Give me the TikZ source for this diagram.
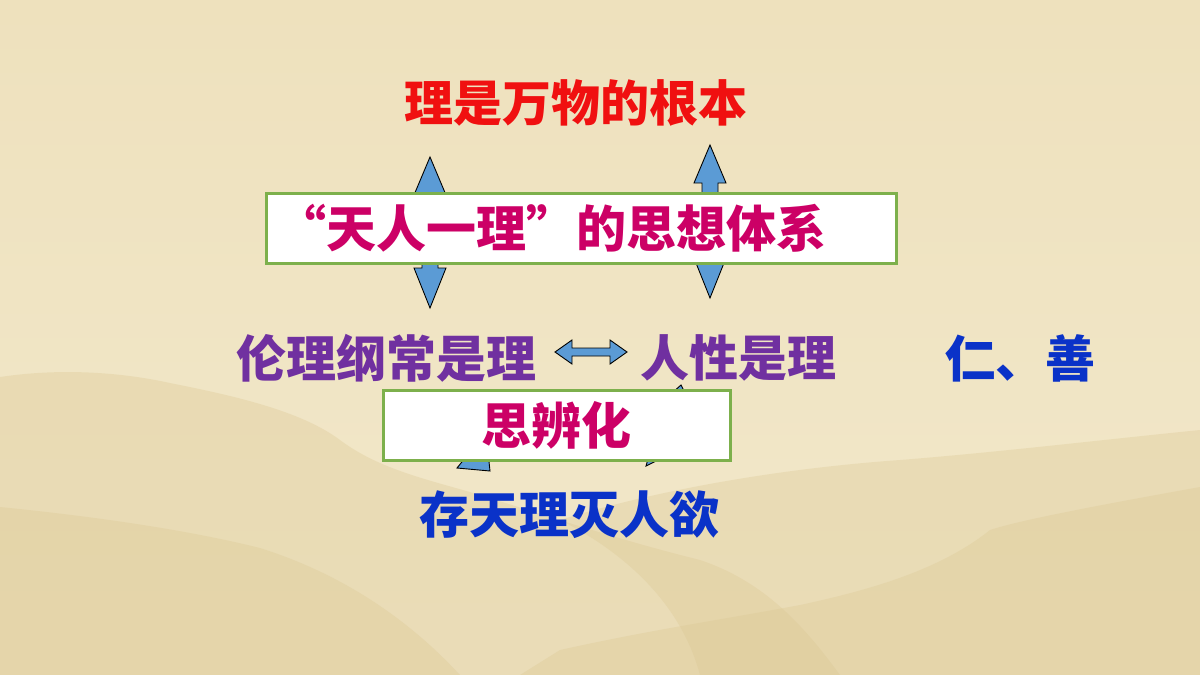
\documentclass[tikz,border=0pt]{standalone}
\usepackage{fontspec}
\newfontfamily\cjk{Noto Sans CJK SC}
\usetikzlibrary{calc}
\definecolor{bgtop}{HTML}{EEE1BD}
\definecolor{bgbot}{HTML}{F2E8CB}
\definecolor{hill}{HTML}{DCC894}
\definecolor{tred}{HTML}{F01010}
\definecolor{tmag}{HTML}{CC0066}
\definecolor{tpur}{HTML}{7030A0}
\definecolor{tblu}{HTML}{0A32C8}
\definecolor{afill}{HTML}{5B9BD5}
\definecolor{bgreen}{HTML}{7DB04C}
\tikzset{
  txt/.style={inner sep=0pt, font=\cjk\bfseries\fontsize{#1}{#1}\selectfont},
  blockarrow/.style={fill=afill, draw=black, line width=0.9pt, line join=miter},
  whitebox/.style={draw=bgreen, fill=white, line width=3pt, minimum height=70pt, inner sep=0pt},
  hillfill/.style={fill=hill, fill opacity=0.35}
}
\begin{document}
\begin{tikzpicture}[x=1pt,y=-1pt]
\useasboundingbox (0,0) rectangle (1200,675);
% background
\shade[top color=bgtop, bottom color=bgbot] (0,0) rectangle (1200,675);
% hills
\path[hillfill] (0,377) .. controls (60,368) and (120,372) .. (170,383)
  .. controls (230,395) and (300,410) .. (340,440)
  .. controls (380,470) and (430,480) .. (480,495)
  .. controls (560,520) and (620,540) .. (700,560)
  .. controls (760,580) and (800,620) .. (840,675)
  -- (0,675) -- cycle;
\path[hillfill] (0,507) .. controls (80,515) and (180,528) .. (260,548)
  .. controls (330,570) and (400,610) .. (460,675) -- (0,675) -- cycle;
\path[hillfill] (560,520) .. controls (640,495) and (760,470) .. (900,460)
  .. controls (1000,452) and (1100,440) .. (1200,430) -- (1200,675) -- (700,675)
  .. controls (680,600) and (620,550) .. (560,520) -- cycle;
\path[hillfill] (1200,487) .. controls (1100,505) and (1020,520) .. (990,530)
  .. controls (940,570) and (870,590) .. (800,605)
  .. controls (720,620) and (650,630) .. (560,650) -- (520,675) -- (1200,675) -- cycle;
% title
\node[txt=49, text=tred] (root) at (575.5,103) {理是万物的根本};
% vertical double arrows (behind box)
\coordinate (lat) at (430,157);
\coordinate (rat) at (710,145);
\path[blockarrow] (lat) -- ++(16,38) -- ++(-8,0) -- ++(0,73) -- ++(8,0) -- ++(-16,40)
  -- ++(-16,-40) -- ++(8,0) -- ++(0,-73) -- ++(-8,0) -- cycle;
\path[blockarrow] (rat) -- ++(16,38) -- ++(-8,0) -- ++(0,75) -- ++(8,0) -- ++(-16,40)
  -- ++(-16,-40) -- ++(8,0) -- ++(0,-75) -- ++(-8,0) -- cycle;
% main box
\node[whitebox, minimum width=630pt, text width=610pt, inner xsep=10pt, align=left,
  txt=50, text=tmag, anchor=west] (sys) at (265,228) {“天人一理”的思想体系};
% middle row
\node[txt=50, text=tpur] (lun) at (386,358) {伦理纲常是理};
\node[txt=49, text=tpur] (xing) at (738,358) {人性是理};
\node[txt=50, text=tblu] (ren) at (1020,358) {仁、善};
% horizontal double arrow
\coordinate (hal) at (555,352);
\path[blockarrow] (hal) -- ++(17,-12) -- ++(0,8) -- ++(38,0) -- ++(0,-8) -- ++(17,12)
  -- ++(-17,12) -- ++(0,-8) -- ++(-38,0) -- ++(0,8) -- cycle;
% pieces of arrows behind the second box
\path[blockarrow] (457,468) -- (490,471) -- (488,452) -- (470,452) -- cycle;
\path[blockarrow] (646,466) -- (666,456) -- (650,452) -- cycle;
\path[blockarrow] (672,393) -- (681,385) -- (685,393) -- cycle;
% second box
\node[whitebox, minimum width=347pt, txt=50, text=tmag] (sb) at (556.5,425) {思辨化};
% bottom
\node[txt=50, text=tblu] (cun) at (569,515) {存天理灭人欲};
\end{tikzpicture}
\end{document}
